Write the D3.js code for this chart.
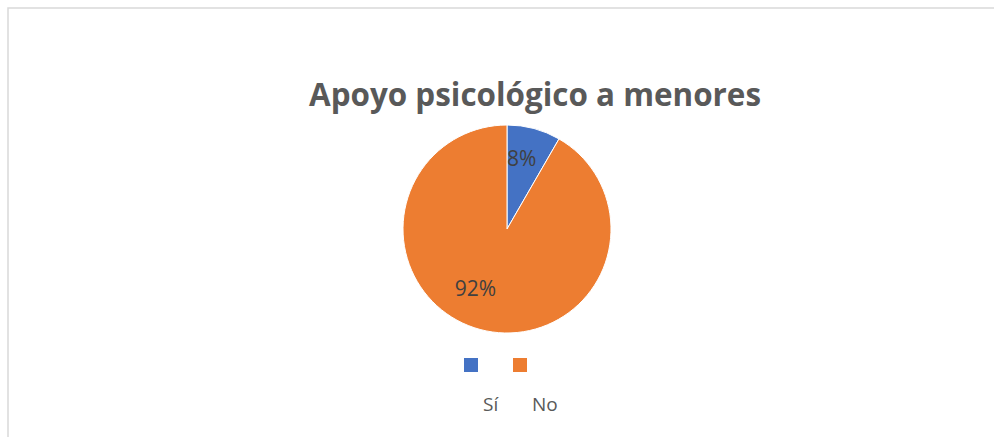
<!DOCTYPE html>
<html>
<head>
<meta charset="utf-8">
<script src="https://cdn.jsdelivr.net/npm/d3@7"></script>
<style>
  body { margin: 0; background: #fff; }
  svg { display: block; }
</style>
</head>
<body>
<div id="chart"></div>
<script>
var width = 994,
    height = 437;

// data
var categories = ["Sí", "No"];
var values = [1, 11];
var colors = ["#4472C4", "#ED7D31"];
var title = "Apoyo psicológico a menores";

var svg = d3.select("#chart")
    .append("svg")
    .attr("width", width)
    .attr("height", height);

// chart frame
svg.append("rect")
    .attr("x", 8)
    .attr("y", 8)
    .attr("width", width + 20)
    .attr("height", height + 20)
    .attr("fill", "#fff")
    .attr("stroke", "#d9d9d9")
    .attr("stroke-width", 1.5);

svg.append("text")
    .attr("x", 535)
    .attr("y", 106)
    .attr("text-anchor", "middle")
    .attr("font-family", "Open Sans, sans-serif")
    .attr("font-weight", "bold")
    .attr("font-size", "31.4px")
    .attr("fill", "#595959")
    .text(title);

var radius = 104;
var cx = 507, cy = 229;

var pie = d3.pie().sort(null).value(function(d){ return d; });
var arc = d3.arc().innerRadius(0).outerRadius(radius);
var total = d3.sum(values);

var g = svg.append("g")
    .attr("transform", "translate(" + cx + "," + cy + ")");

var arcs = pie(values);

g.selectAll("path")
    .data(arcs)
    .enter()
    .append("path")
    .attr("d", arc)
    .attr("fill", function(d, i){ return colors[i]; })
    .attr("stroke", "#fff")
    .attr("stroke-width", 1);

// label positions inside slices (Excel "best fit" moves them a bit)
var labelArc = d3.arc().innerRadius(72).outerRadius(72);
var labelNudge = [[-4, -1], [-13, -10]];

g.selectAll("text.lbl")
    .data(arcs)
    .enter()
    .append("text")
    .attr("class", "lbl")
    .attr("transform", function(d, i){
        var c = labelArc.centroid(d);
        return "translate(" + (c[0] + labelNudge[i][0]) + "," + (c[1] + labelNudge[i][1]) + ")";
    })
    .attr("dy", "0.35em")
    .attr("text-anchor", "middle")
    .attr("font-family", "Open Sans, sans-serif")
    .attr("font-size", "21px")
    .attr("fill", "#404040")
    .text(function(d){ return Math.round(d.value / total * 100) + "%"; });

// legend: squares on one row, names below
var legendX = d3.scalePoint().domain(categories).range([471, 520]);

svg.selectAll("rect.key")
    .data(categories)
    .enter()
    .append("rect")
    .attr("class", "key")
    .attr("x", function(d){ return legendX(d) - 7; })
    .attr("y", 358)
    .attr("width", 14)
    .attr("height", 14)
    .attr("fill", function(d, i){ return colors[i]; });

svg.selectAll("text.key")
    .data(categories)
    .enter()
    .append("text")
    .attr("class", "key")
    .attr("x", function(d){ return legendX(d) + 12; })
    .attr("y", 411)
    .attr("font-family", "Open Sans, sans-serif")
    .attr("font-size", "19px")
    .attr("fill", "#595959")
    .text(function(d){ return d; });
</script>
</body>
</html>
